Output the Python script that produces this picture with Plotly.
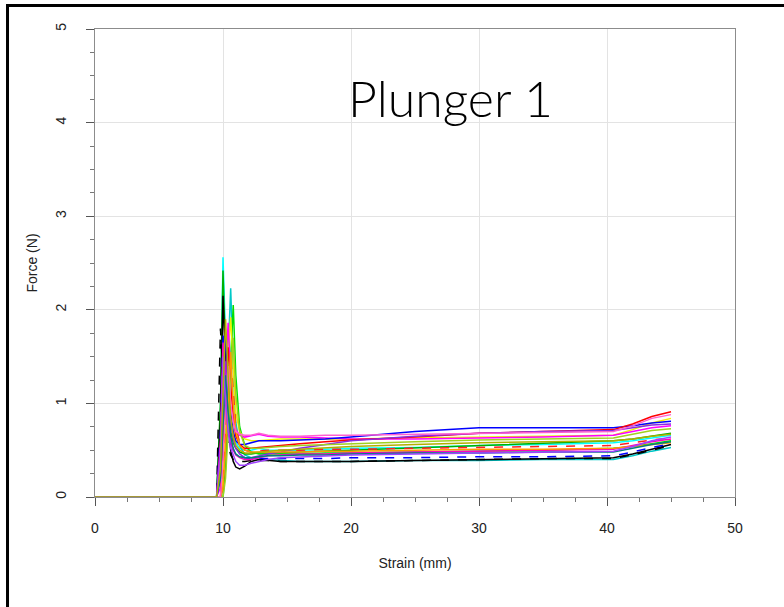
import plotly.graph_objects as go

# Strain grid (mm) shared by all runs
strain = [0, 9.5, 9.8, 10.0, 10.2, 10.4, 10.6, 10.8, 11.0, 11.3, 11.7, 12.2, 12.8,
          13.5, 14.5, 16, 18, 20, 25, 30, 35, 40.5, 42, 43.5, 45]

# Force (N) per run
run_colors = ["cyan", "#00c8c8", "#00b000", "#00e000", "black", "black", "#f0f000",
              "magenta", "blue", "blue", "red", "#ff2020", "#8a2be2", "#ff00c0",
              "#a0d020", "#ff9900", "#ff60d0", "#008080", "#a040ff", "#b0b000"]
run_dash = ["solid", "solid", "solid", "solid", "solid", "dash", "solid",
            "solid", "solid", "dash", "solid", "dash", "solid", "solid",
            "solid", "solid", "solid", "solid", "solid", "solid"]
forces = [
    [0, 0, 0.9, 2.56, 1.7, 1.1, 0.8, 0.66, 0.58, 0.52, 0.50, 0.50, 0.52, 0.50, 0.50, 0.50, 0.51, 0.52, 0.53, 0.55, 0.56, 0.58, 0.60, 0.63, 0.66],
    [0, 0, 0, 0.1, 0.8, 1.6, 2.23, 1.4, 0.8, 0.55, 0.45, 0.42, 0.40, 0.40, 0.39, 0.38, 0.38, 0.38, 0.39, 0.39, 0.40, 0.40, 0.44, 0.49, 0.53],
    [0, 0, 1.0, 2.42, 1.5, 1.0, 0.7, 0.58, 0.52, 0.48, 0.46, 0.46, 0.47, 0.47, 0.47, 0.48, 0.49, 0.50, 0.52, 0.55, 0.57, 0.60, 0.62, 0.65, 0.68],
    [0, 0, 0, 0, 0.3, 0.9, 1.6, 2.05, 1.3, 0.75, 0.55, 0.48, 0.46, 0.46, 0.46, 0.46, 0.47, 0.47, 0.48, 0.49, 0.50, 0.52, 0.54, 0.57, 0.60],
    [0, 0, 0.8, 2.15, 1.4, 0.8, 0.5, 0.38, 0.32, 0.30, 0.33, 0.38, 0.40, 0.39, 0.38, 0.38, 0.38, 0.38, 0.39, 0.40, 0.41, 0.42, 0.46, 0.51, 0.56],
    [0, 0, 1.8, 1.3, 0.8, 0.55, 0.45, 0.40, 0.38, 0.38, 0.38, 0.39, 0.39, 0.39, 0.38, 0.38, 0.38, 0.38, 0.39, 0.40, 0.41, 0.41, 0.45, 0.50, 0.55],
    [0, 0, 0, 0.2, 0.9, 1.5, 1.92, 1.4, 0.9, 0.7, 0.62, 0.60, 0.60, 0.61, 0.62, 0.62, 0.62, 0.62, 0.63, 0.64, 0.65, 0.66, 0.72, 0.79, 0.84],
    [0, 0, 0.1, 0.7, 1.4, 1.86, 1.3, 0.9, 0.72, 0.66, 0.64, 0.65, 0.67, 0.65, 0.64, 0.64, 0.63, 0.62, 0.62, 0.63, 0.64, 0.66, 0.70, 0.74, 0.76],
    [0, 0, 0.2, 1.2, 1.7, 1.3, 0.9, 0.7, 0.6, 0.56, 0.56, 0.58, 0.60, 0.60, 0.60, 0.61, 0.62, 0.64, 0.70, 0.74, 0.74, 0.74, 0.76, 0.79, 0.81],
    [0, 0, 0.7, 1.75, 1.2, 0.8, 0.6, 0.5, 0.46, 0.44, 0.42, 0.41, 0.41, 0.41, 0.41, 0.41, 0.41, 0.42, 0.42, 0.43, 0.43, 0.44, 0.48, 0.53, 0.57],
    [0, 0, 0, 0.5, 1.1, 1.6, 1.2, 0.85, 0.65, 0.56, 0.52, 0.52, 0.53, 0.54, 0.55, 0.57, 0.59, 0.61, 0.64, 0.68, 0.70, 0.72, 0.78, 0.86, 0.91],
    [0, 0, 0, 0.1, 0.6, 1.2, 1.5, 1.1, 0.75, 0.58, 0.50, 0.48, 0.49, 0.50, 0.50, 0.50, 0.51, 0.51, 0.52, 0.53, 0.54, 0.55, 0.58, 0.61, 0.63],
    [0, 0, 0.3, 1.0, 1.45, 1.1, 0.8, 0.62, 0.52, 0.46, 0.42, 0.42, 0.44, 0.46, 0.48, 0.52, 0.56, 0.60, 0.65, 0.68, 0.70, 0.71, 0.74, 0.77, 0.78],
    [0, 0, 0.6, 1.65, 1.2, 0.8, 0.6, 0.5, 0.45, 0.42, 0.40, 0.40, 0.42, 0.44, 0.45, 0.46, 0.46, 0.47, 0.48, 0.49, 0.50, 0.51, 0.55, 0.59, 0.62],
    [0, 0, 0, 0, 0.2, 0.7, 1.3, 1.7, 1.1, 0.7, 0.55, 0.52, 0.52, 0.53, 0.54, 0.55, 0.56, 0.57, 0.59, 0.61, 0.62, 0.63, 0.67, 0.71, 0.73],
    [0, 0, 0, 0.1, 0.5, 1.0, 1.55, 1.0, 0.7, 0.55, 0.50, 0.48, 0.48, 0.48, 0.48, 0.48, 0.49, 0.49, 0.50, 0.51, 0.51, 0.52, 0.54, 0.56, 0.58],
    [0, 0, 0, 0.4, 1.0, 1.4, 1.0, 0.8, 0.7, 0.67, 0.66, 0.66, 0.68, 0.66, 0.65, 0.65, 0.66, 0.66, 0.67, 0.68, 0.69, 0.70, 0.76, 0.84, 0.88],
    [0, 0, 0.2, 0.8, 1.3, 0.9, 0.65, 0.52, 0.46, 0.43, 0.42, 0.42, 0.43, 0.44, 0.44, 0.45, 0.45, 0.46, 0.47, 0.47, 0.48, 0.48, 0.52, 0.56, 0.59],
    [0, 0, 0.5, 1.5, 1.0, 0.7, 0.52, 0.44, 0.38, 0.34, 0.34, 0.36, 0.38, 0.40, 0.42, 0.43, 0.44, 0.45, 0.46, 0.47, 0.48, 0.49, 0.54, 0.60, 0.64],
    [0, 0, 0.3, 1.2, 1.9, 1.3, 0.85, 0.65, 0.55, 0.50, 0.47, 0.47, 0.48, 0.49, 0.50, 0.51, 0.53, 0.54, 0.56, 0.58, 0.59, 0.60, 0.62, 0.65, 0.67],
]

x_ticks = [0, 10, 20, 30, 40, 50]
y_ticks = [0, 1, 2, 3, 4, 5]

fig = go.Figure()
for ys, c, d in zip(forces, run_colors, run_dash):
    fig.add_trace(go.Scatter(x=strain, y=ys, mode="lines",
                             line=dict(color=c, width=1.5, dash=d),
                             showlegend=False, hoverinfo="skip"))

axis_common = dict(showline=True, linecolor="#8c8c8c", linewidth=1, mirror=True,
                   showgrid=True, gridcolor="#e3e3e3", gridwidth=1, zeroline=False,
                   ticks="outside", ticklen=8, tickcolor="#555555", tickwidth=1,
                   tickfont=dict(family="Liberation Sans, Arial", size=14, color="#222222"))

fig.update_layout(
    width=784, height=607,
    margin=dict(l=95, r=49, t=29, b=110),
    paper_bgcolor="white", plot_bgcolor="white",
    xaxis=dict(range=[0, 50], tickvals=x_ticks, ticklabelstandoff=10,
               minor=dict(dtick=2.5, ticks="outside", ticklen=4, tickcolor="#777777", showgrid=False),
               title=dict(text="Strain (mm)", standoff=23,
                          font=dict(family="Liberation Sans, Arial", size=14, color="#222222")),
               **axis_common),
    yaxis=dict(range=[0, 5], tickvals=y_ticks, tickangle=-90, ticklabelstandoff=14,
               minor=dict(dtick=0.25, ticks="outside", ticklen=4, tickcolor="#777777", showgrid=False),
               title=dict(text="Force (N)", standoff=12,
                          font=dict(family="Liberation Sans, Arial", size=14, color="#222222")),
               **axis_common),
    annotations=[dict(text="Plunger 1", xref="paper", yref="paper",
                      x=0.555, y=0.853, xanchor="center", yanchor="middle",
                      showarrow=False,
                      font=dict(family="Lato", size=50, color="black", weight=300))],
    shapes=[dict(type="rect", xref="paper", yref="paper",
                 x0=-0.1367, x1=1.3, y0=-0.5, y1=1.0502,
                 line=dict(color="black", width=3), layer="above")],
)

fig.write_html("out.html", config={"displayModeBar": False},
               post_script="document.body.style.margin='0px';document.body.style.overflow='hidden';")
